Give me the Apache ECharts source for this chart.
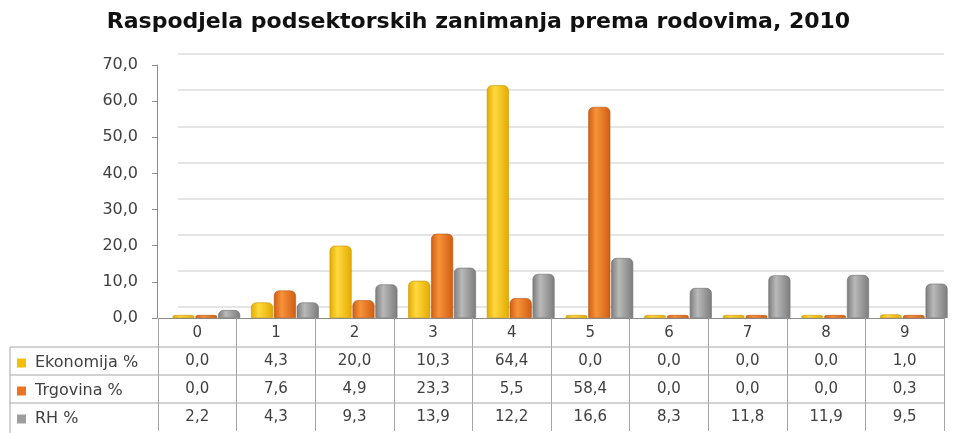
<!DOCTYPE html>
<html>
<head>
<meta charset="utf-8">
<script src="https://cdn.jsdelivr.net/npm/echarts@6/dist/echarts.min.js"></script>
<style>
  html, body { margin: 0; padding: 0; background: #fff; }
  #main { width: 957px; height: 433px; }
</style>
</head>
<body>
<div id="main"></div>
<script>
  var categories = ['0', '1', '2', '3', '4', '5', '6', '7', '8', '9'];
  var seriesNames = ['Ekonomija %', 'Trgovina %', 'RH %'];
  var ekonomija = [0.0, 4.3, 20.0, 10.3, 64.4, 0.0, 0.0, 0.0, 0.0, 1.0];
  var trgovina = [0.0, 7.6, 4.9, 23.3, 5.5, 58.4, 0.0, 0.0, 0.0, 0.3];
  var rh = [2.2, 4.3, 9.3, 13.9, 12.2, 16.6, 8.3, 11.8, 11.9, 9.5];
  var yTicks = [0, 10, 20, 30, 40, 50, 60, 70];

  var FONT = 'DejaVu Sans';
  var fmt = function (v) { return v.toFixed(1).replace('.', ','); };

  // cylinder-ish shading
  function cyl(dark, light) {
    return new echarts.graphic.LinearGradient(0, 0, 1, 0, [
      {offset: 0, color: dark},
      {offset: 0.35, color: light},
      {offset: 1, color: dark}
    ]);
  }
  var colors = ['#F5BE00', '#EC7420', '#9E9E9E'];
  var fills = [
    cyl('#E3AA00', '#FFD93F'),
    cyl('#CF5E12', '#F7923A'),
    cyl('#7C7C7C', '#B9B9B9')
  ];
  var borders = ['#C99300', '#B8520E', '#6E6E6E'];

  var chart = echarts.init(document.getElementById('main'));

  var series = [ekonomija, trgovina, rh].map(function (arr, i) {
    return {
      name: seriesNames[i],
      type: 'bar',
      xAxisIndex: 0,
      yAxisIndex: 0,
      barWidth: 22,
      barGap: '4%',
      barMinHeight: 3,
      color: colors[i],
      itemStyle: {
        color: fills[i],
        borderColor: borders[i],
        borderWidth: 0.6,
        borderRadius: [5, 5, 0, 0]
      },
      data: arr
    };
  });

  // one legend per table row
  var legends = seriesNames.map(function (name, i) {
    return {
      orient: 'vertical',
      left: 17,
      top: 355 + i * 28,
      padding: 0,
      itemWidth: 9,
      itemHeight: 9,
      itemGap: 0,
      icon: 'rect',
      data: [{name: name, itemStyle: {color: colors[i], borderWidth: 0}}],
      textStyle: {fontFamily: FONT, fontSize: 16, color: '#404040', padding: [0, 0, 0, 4]}
    };
  });

  var tableLine = {stroke: '#A6A6A6', lineWidth: 1};

  chart.setOption({
    animation: false,
    title: {
      text: 'Raspodjela podsektorskih zanimanja prema rodovima, 2010',
      left: 'center',
      top: 6,
      textStyle: {fontFamily: FONT, fontWeight: 'bold', fontSize: 22, color: '#111'}
    },
    legend: legends,
    grid: [
      {left: 167, right: 4, top: 65, bottom: 115},
      {left: 158, right: 13, top: 65, bottom: 115},
      {left: 178, right: 13, top: 54, bottom: 126}
    ],
    xAxis: [
      {gridIndex: 0, type: 'category', data: categories, show: false},
      {
        gridIndex: 1,
        type: 'category',
        data: categories,
        axisLine: {show: true, lineStyle: {color: '#8C8C8C'}},
        axisTick: {show: true, length: 113, lineStyle: {color: '#A6A6A6'}},
        axisLabel: {
          margin: 1,
          interval: 0,
          fontFamily: FONT,
          fontSize: 15,
          color: '#404040',
          lineHeight: 28,
          formatter: function (v, i) {
            return [categories[i], fmt(ekonomija[i]), fmt(trgovina[i]), fmt(rh[i])].join('\n');
          }
        }
      },
      {gridIndex: 2, type: 'category', data: categories, show: false}
    ],
    yAxis: [
      {
        gridIndex: 0,
        type: 'value',
        min: yTicks[0],
        max: yTicks[yTicks.length - 1],
        interval: 10,
        offset: 10,
        axisLine: {show: true, lineStyle: {color: '#8C8C8C'}},
        axisTick: {show: true, length: 5, lineStyle: {color: '#8C8C8C'}},
        splitLine: {show: false},
        axisLabel: {
          fontFamily: FONT,
          fontSize: 16,
          color: '#404040',
          margin: 19,
          formatter: function (v) { return fmt(v); }
        }
      },
      {gridIndex: 1, type: 'value', min: 0, max: 70, interval: 10, show: false},
      {
        gridIndex: 2,
        type: 'value',
        min: 0,
        max: 70,
        interval: 10,
        axisLine: {show: false},
        axisTick: {show: false},
        axisLabel: {show: false},
        splitLine: {show: true, lineStyle: {color: '#DCDCDC', width: 1.5}}
      }
    ],
    graphic: [
      {type: 'line', shape: {x1: 10, y1: 347, x2: 944, y2: 347}, style: tableLine, silent: true},
      {type: 'line', shape: {x1: 10, y1: 375, x2: 944, y2: 375}, style: tableLine, silent: true},
      {type: 'line', shape: {x1: 10, y1: 403, x2: 944, y2: 403}, style: tableLine, silent: true},
      {type: 'line', shape: {x1: 10, y1: 347, x2: 10, y2: 433}, style: tableLine, silent: true}
    ],
    series: series
  });
</script>
</body>
</html>
